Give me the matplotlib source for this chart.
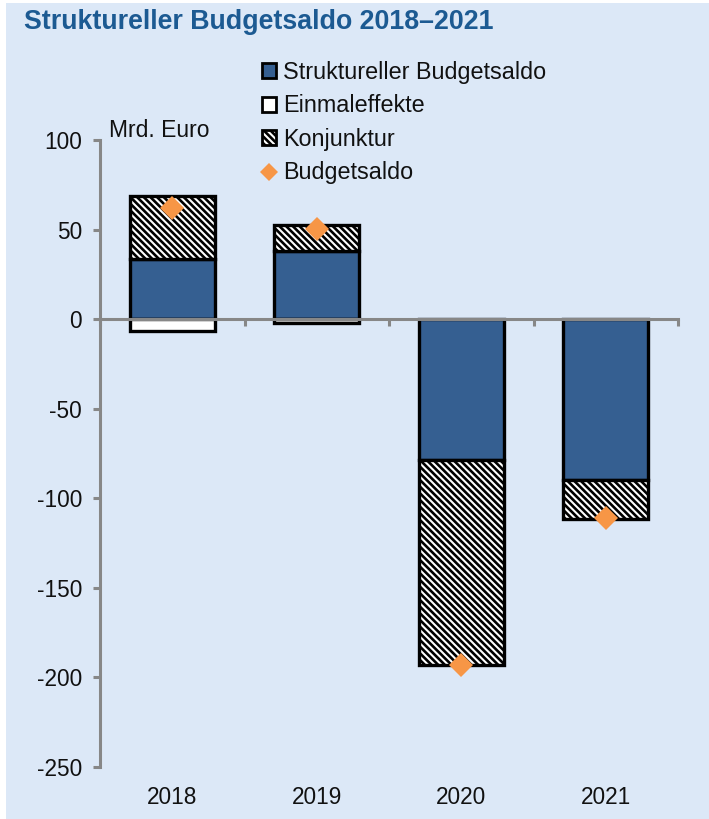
import numpy as np
import matplotlib
matplotlib.use("Agg")
import matplotlib.pyplot as plt
from matplotlib.patches import Patch, Rectangle
from matplotlib.lines import Line2D

# ---- data ----
years = ["2018", "2019", "2020", "2021"]
strukturell = [33.5, 38.0, -78.5, -90.0]
einmaleffekte = [-6.5, -2.0, 0.0, 0.0]
konjunktur = [35.0, 14.5, -114.5, -21.5]
budgetsaldo = [62.3, 50.3, -193.0, -111.0]
yticks = [100, 50, 0, -50, -100, -150, -200, -250]

# ---- style ----
BG = "#dce8f7"
BLUE = "#355f91"
ORANGE = "#f79646"
AXC = "#878787"
TITLEC = "#1c5a92"
HATCH = "\\" * 5
plt.rcParams["font.family"] = ["Liberation Sans", "DejaVu Sans"]
plt.rcParams["hatch.linewidth"] = 1.9
plt.rcParams["hatch.color"] = "black"

W, H = 709, 819
fig = plt.figure(figsize=(W / 100, H / 100), dpi=100, facecolor="white")
fig.patches.append(Rectangle((6 / W, 0), 1 - 6 / W, 1 - 3 / H, transform=fig.transFigure,
                             facecolor=BG, edgecolor="none", zorder=-10))

ax = fig.add_axes([100 / W, 52 / H, 578 / W, 627 / H])
ax.set_facecolor("none")

x = np.arange(len(years))
width = 0.59
pos_base = np.zeros(len(years))
neg_base = np.zeros(len(years))
series = [
    (np.array(strukturell), dict(facecolor=BLUE, hatch=None)),
    (np.array(einmaleffekte), dict(facecolor="white", hatch=None)),
    (np.array(konjunktur), dict(facecolor="white", hatch=HATCH)),
]
for vals, st in series:
    bottom = np.where(vals >= 0, pos_base, neg_base)
    m = vals != 0
    ax.bar(x[m], vals[m], width=width, bottom=bottom[m], edgecolor="black",
           linewidth=2.4, zorder=2, **st)
    pos_base = pos_base + np.where(vals > 0, vals, 0)
    neg_base = neg_base + np.where(vals < 0, vals, 0)

ax.plot(x, budgetsaldo, linestyle="none", marker="D", markersize=12,
        color=ORANGE, markeredgewidth=0, zorder=5)

ax.set_xlim(-0.5, len(years) - 0.5)
ax.set_ylim(-250, 100)
ax.set_yticks(yticks)
ax.set_yticklabels([str(v) for v in yticks])
ax.set_xticks(np.arange(-0.5, len(years), 1.0))
ax.set_xticklabels([])

for s in ["top", "right"]:
    ax.spines[s].set_visible(False)
ax.spines["bottom"].set_position(("data", 0))
for s in ["left", "bottom"]:
    ax.spines[s].set_color(AXC)
    ax.spines[s].set_linewidth(2.2)
    ax.spines[s].set_zorder(4)
ax.tick_params(axis="both", direction="out", length=5, width=2.2, color=AXC,
               labelsize=16.3, labelcolor="#111111")
ax.tick_params(axis="y", pad=8)

for i, yr in enumerate(years):
    ax.annotate(yr, xy=(i, 0), xycoords=("data", "axes fraction"),
                xytext=(0, -22), textcoords="offset points",
                ha="center", va="center", fontsize=16.3, color="#111111")

ax.text(0.015, 0.997, "Mrd. Euro", transform=ax.transAxes, ha="left", va="bottom",
        fontsize=16.5, color="#111111")

fig.text(24 / W, 1 - 22 / H, "Struktureller Budgetsaldo 2018\u20132021",
         fontsize=19.3, fontweight="bold", color=TITLEC, ha="left", va="center")

handles = [
    Patch(facecolor=BLUE, edgecolor="black", linewidth=2),
    Patch(facecolor="white", edgecolor="black", linewidth=2),
    Patch(facecolor="white", edgecolor="black", linewidth=2, hatch=HATCH),
    Line2D([], [], linestyle="none", marker="D", markersize=9, color=ORANGE,
           markeredgewidth=0),
]
labels = ["Struktureller Budgetsaldo", "Einmaleffekte", "Konjunktur", "Budgetsaldo"]
fig.legend(handles, labels, loc="upper left", bbox_to_anchor=(262 / W, 1 - 61 / H),
           frameon=False, fontsize=16.8, handlelength=0.6, handleheight=0.6,
           handletextpad=0.3, labelspacing=0.45, borderpad=0, borderaxespad=0,
           labelcolor="#111111")

fig.savefig("out.png", dpi=100, facecolor=fig.get_facecolor())
